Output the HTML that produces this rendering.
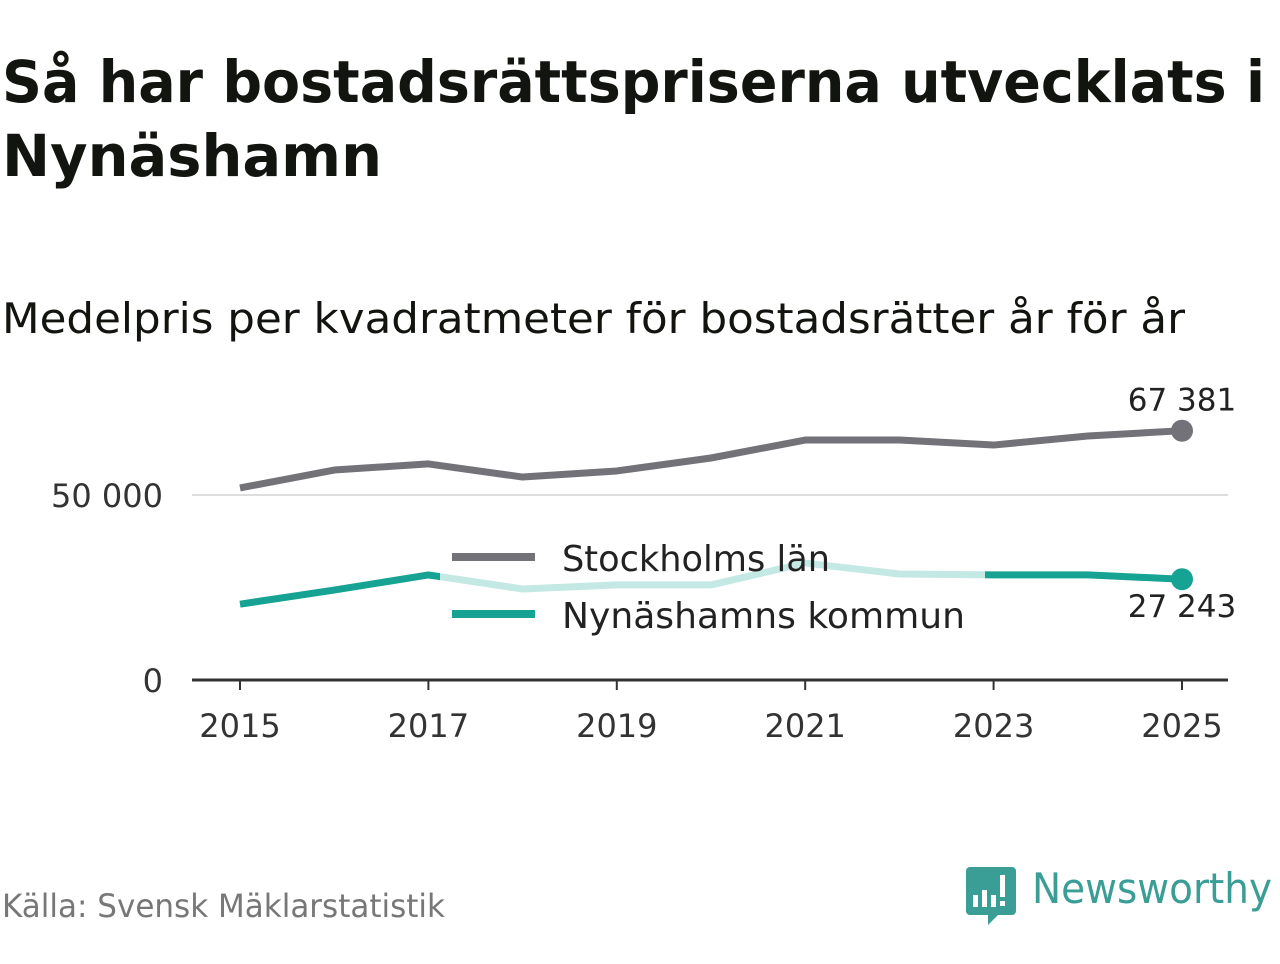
<!DOCTYPE html>
<html><head><meta charset="utf-8"><style>
body{margin:0;width:1280px;height:960px;background:#fff;font-family:"DejaVu Sans","Liberation Sans",sans-serif;overflow:hidden}
</style></head><body>
<svg width="1280" height="960">
<text x="2" y="102" font-size="58" font-weight="bold" fill="#12140f" textLength="1263" lengthAdjust="spacingAndGlyphs">Så har bostadsrättspriserna utvecklats i</text>
<text x="2" y="176" font-size="58" font-weight="bold" fill="#12140f" textLength="380" lengthAdjust="spacingAndGlyphs">Nynäshamn</text>
<text x="2" y="333" font-size="42" fill="#12140f" textLength="1183" lengthAdjust="spacingAndGlyphs">Medelpris per kvadratmeter för bostadsrätter år för år</text>
<g id="grid"></g><g id="lines"></g>
<g>
<rect x="440" y="528" width="545" height="112" fill="#fff" opacity="0.75"/>
<line x1="452" y1="557" x2="535" y2="557" stroke="#737279" stroke-width="8"/>
<text x="562" y="571" font-size="36" fill="#222" textLength="268" lengthAdjust="spacingAndGlyphs">Stockholms län</text>
<line x1="452" y1="614" x2="535" y2="614" stroke="#16a394" stroke-width="8"/>
<text x="562" y="628" font-size="36" fill="#222" textLength="403" lengthAdjust="spacingAndGlyphs">Nynäshamns kommun</text>
</g>
<g id="labels"></g>
<text x="2" y="917" font-size="32" fill="#777" textLength="443" lengthAdjust="spacingAndGlyphs">Källa: Svensk Mäklarstatistik</text>
<g>
<path d="M970 867 h42 a4 4 0 0 1 4 4 v40 a4 4 0 0 1 -4 4 h-14 l-10 10 v-10 h-18 a4 4 0 0 1 -4 -4 v-40 a4 4 0 0 1 4 -4z" fill="#3a9e96"/>
<rect x="973" y="895" width="5" height="12" fill="#fff"/><rect x="982" y="890" width="5" height="17" fill="#fff"/><rect x="991" y="895" width="5" height="12" fill="#fff"/><rect x="1000" y="875" width="5" height="22" fill="#fff"/><rect x="1000" y="901" width="5" height="5" fill="#fff"/>
<text x="1032" y="903" font-size="42" fill="#3a9e96" textLength="240" lengthAdjust="spacingAndGlyphs">Newsworthy</text>
</g>
</svg>
<script>
const years=[2015,2016,2017,2018,2019,2020,2021,2022,2023,2024,2025];
const stockholm=[51900,56750,58400,54850,56500,60000,64850,64850,63500,65950,67381];
const nynashamn=[20500,24300,28400,24600,25700,25700,31600,28650,28400,28400,27243];
const xTicks=[2015,2017,2019,2021,2023,2025];
const yTicks=[0,50000];
const yTickLabels=["0","50 000"];
const NS="http://www.w3.org/2000/svg";
const x=v=>240+(v-2015)*94.2, y=v=>680-v*0.0037;
function mk(t,a,p){const e=document.createElementNS(NS,t);for(const k in a)e.setAttribute(k,a[k]);document.getElementById(p).appendChild(e);return e;}
yTicks.forEach((t,i)=>{
 if(t>0){const g=mk('line',{x1:192,x2:1228,y1:y(t),y2:y(t),stroke:'#ddd','stroke-width':2},'grid');
 
 }
 const l=mk('text',{x:163,y:y(t)+12,'font-size':32,fill:'#333','text-anchor':'end'},'grid');l.textContent=yTickLabels[i];
 
 
});
const ax=mk('line',{x1:192,x2:1228,y1:680,y2:680,stroke:'#333','stroke-width':3},'grid');


xTicks.forEach(t=>{
 mk('line',{x1:x(t),x2:x(t),y1:680,y2:690,stroke:'#333','stroke-width':2},'grid');
 const l=mk('text',{x:x(t),y:737,'font-size':32,fill:'#333','text-anchor':'middle'},'grid');l.textContent=t;
 
 
});
function series(vals,col,name){
 const p=mk('polyline',{points:vals.map((v,i)=>x(years[i])+','+y(v)).join(' '),fill:'none',stroke:col,'stroke-width':7,'stroke-linejoin':'round'},'lines');
 
 
 const n=vals.length-1;
 const c=mk('circle',{cx:x(years[n]),cy:y(vals[n]),r:11,fill:col},'lines');
 
 
}
series(stockholm,'#737279','stockholm');
series(nynashamn,'#16a394','nynashamn');
const fmt=v=>String(v).replace(/\B(?=(\d{3})+(?!\d))/g,' ');
const n=years.length-1;
const a=mk('text',{x:x(years[n]),y:y(stockholm[n])-20,'font-size':31,fill:'#222','text-anchor':'middle'},'labels');a.textContent=fmt(stockholm[n]);


const b=mk('text',{x:x(years[n]),y:y(nynashamn[n])+38,'font-size':31,fill:'#222','text-anchor':'middle'},'labels');b.textContent=fmt(nynashamn[n]);


</script>
</body></html>
